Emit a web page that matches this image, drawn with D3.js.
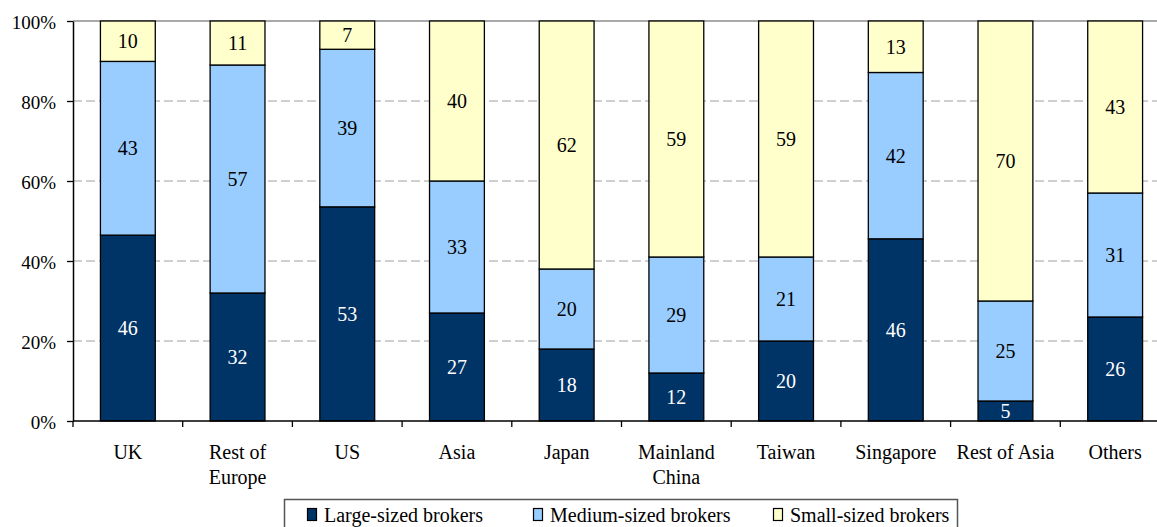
<!DOCTYPE html>
<html>
<head>
<meta charset="utf-8">
<script src="https://cdn.jsdelivr.net/npm/d3@7"></script>
<style>
  html, body { margin: 0; padding: 0; background: #fff; }
  svg { display: block; font-family: "Liberation Serif", "Times New Roman", serif; }
  svg text { font-family: "Liberation Serif", "Times New Roman", serif; }
</style>
</head>
<body>
<svg id="chart" width="1157" height="527"></svg>
<script>
// Broker size mix by market (% of brokers)
const categories = ["UK", "Rest of Europe", "US", "Asia", "Japan", "Mainland China",
                    "Taiwan", "Singapore", "Rest of Asia", "Others"];
const tickLabels = [["UK"], ["Rest of", "Europe"], ["US"], ["Asia"], ["Japan"],
                    ["Mainland", "China"], ["Taiwan"], ["Singapore"], ["Rest of Asia"], ["Others"]];
const seriesNames = ["Large-sized brokers", "Medium-sized brokers", "Small-sized brokers"];
const large  = [46, 32, 53, 27, 18, 12, 20, 46, 5, 26];
const medium = [43, 57, 39, 33, 20, 29, 21, 42, 25, 31];
const small  = [10, 11, 7, 40, 62, 59, 59, 13, 70, 43];
const yTicks = [0, 0.2, 0.4, 0.6, 0.8, 1.0];
const colors = ["#003366", "#99CCFF", "#FFFFCC"];
const labelColors = ["#ffffff", "#000000", "#000000"];

const keys = ["large", "medium", "small"];
const rows = categories.map((c, i) => ({ cat: c, large: large[i], medium: medium[i], small: small[i] }));

const svg = d3.select("#chart");
const plotLeft = 73, plotRight = 1170, plotTop = 21, plotBottom = 421;

const x = d3.scaleBand().domain(categories).range([plotLeft, plotRight])
  .paddingInner(0.5).paddingOuter(0.25);
const y = d3.scaleLinear().domain([0, 1]).range([plotBottom, plotTop]);

const stacked = d3.stack().keys(keys).offset(d3.stackOffsetExpand)(rows);

// Gridlines
svg.append("g").selectAll("line")
  .data(yTicks.filter(t => t > 0 && t < 1))
  .join("line")
  .attr("x1", plotLeft).attr("x2", plotRight)
  .attr("y1", d => y(d)).attr("y2", d => y(d))
  .attr("stroke", "#a0a0a0").attr("stroke-width", 1.2)
  .attr("stroke-dasharray", "9,4");
svg.append("line")
  .attr("x1", plotLeft).attr("x2", plotRight)
  .attr("y1", y(1)).attr("y2", y(1))
  .attr("stroke", "#8c8c8c").attr("stroke-width", 1.5);

// Stacked bars
const layers = svg.append("g").selectAll("g")
  .data(stacked).join("g")
  .attr("fill", (d, i) => colors[i]);

layers.selectAll("rect")
  .data(d => d)
  .join("rect")
  .attr("x", d => x(d.data.cat))
  .attr("width", x.bandwidth())
  .attr("y", d => y(d[1]))
  .attr("height", d => y(d[0]) - y(d[1]))
  .attr("stroke", "#000").attr("stroke-width", 1.3);

// Segment value labels
stacked.forEach((layer, li) => {
  svg.append("g").selectAll("text")
    .data(layer).join("text")
    .attr("x", d => x(d.data.cat) + x.bandwidth() / 2)
    .attr("y", d => (y(d[0]) + y(d[1])) / 2)
    .attr("dy", "0.35em")
    .attr("text-anchor", "middle")
    .attr("font-size", 20)
    .attr("fill", labelColors[li])
    .text(d => d.data[keys[li]]);
});

// Y axis
const yAxis = svg.append("g")
  .attr("transform", `translate(${plotLeft},0)`)
  .call(d3.axisLeft(y).tickValues(yTicks).tickFormat(d3.format(".0%"))
    .tickSize(6).tickSizeOuter(0).tickPadding(11));
yAxis.attr("font-family", null);
yAxis.select(".domain").attr("stroke", "#000").attr("stroke-width", 1.5);
yAxis.selectAll(".tick line").attr("stroke", "#000").attr("stroke-width", 1.3);
yAxis.selectAll(".tick text")
  .attr("font-size", 19).attr("fill", "#000").attr("dy", "0.38em");

// X axis line with category boundary ticks
svg.append("line")
  .attr("x1", plotLeft).attr("x2", plotRight)
  .attr("y1", plotBottom).attr("y2", plotBottom)
  .attr("stroke", "#000").attr("stroke-width", 1.5);
const step = x.step();
const boundaries = d3.range(categories.length + 1).map(i => plotLeft + i * step);
svg.append("g").selectAll("line")
  .data(boundaries).join("line")
  .attr("x1", d => d).attr("x2", d => d)
  .attr("y1", plotBottom).attr("y2", plotBottom + 6)
  .attr("stroke", "#000").attr("stroke-width", 1.3);

// Category labels
const xl = svg.append("g").selectAll("text")
  .data(categories).join("text")
  .attr("text-anchor", "middle")
  .attr("font-size", 20)
  .attr("fill", "#000")
  .attr("transform", d => `translate(${x(d) + x.bandwidth() / 2},459)`);
xl.each(function (d, i) {
  d3.select(this).selectAll("tspan")
    .data(tickLabels[i]).join("tspan")
    .attr("x", 0).attr("y", (t, j) => j * 25)
    .text(t => t);
});

// Legend
svg.append("rect")
  .attr("x", 284.5).attr("y", 499.5)
  .attr("width", 673).attr("height", 40)
  .attr("fill", "#fff").attr("stroke", "#555").attr("stroke-width", 1.5);
const legendX = [307, 533, 773];
seriesNames.forEach((name, i) => {
  svg.append("rect")
    .attr("x", legendX[i] + 0.5).attr("y", 508.5)
    .attr("width", 9).attr("height", 12)
    .attr("fill", colors[i]).attr("stroke", "#000").attr("stroke-width", 1.2);
  svg.append("text")
    .attr("x", legendX[i] + 17).attr("y", 521.5)
    .attr("font-size", 20).attr("fill", "#000")
    .text(name);
});
</script>
</body>
</html>
